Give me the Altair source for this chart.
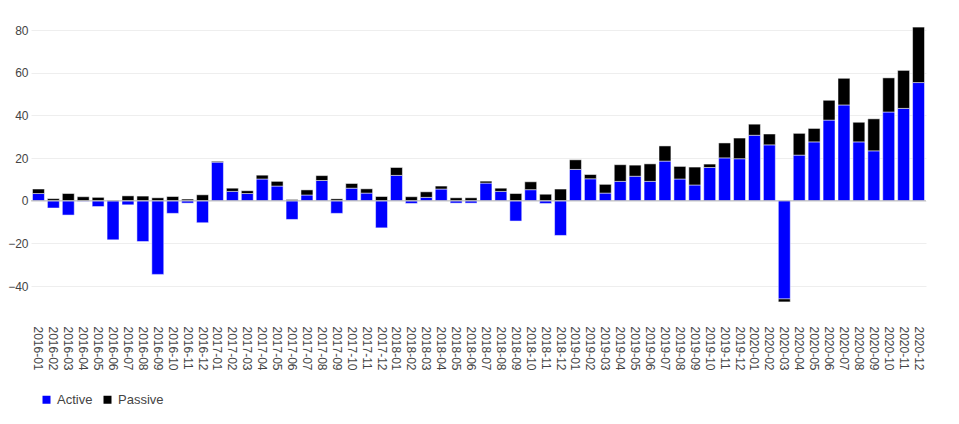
import altair as alt
import pandas as pd

months = [f"{y}-{m:02d}" for y in range(2016, 2021) for m in range(1, 13)]

active = [
    3.4, -3.4, -6.7, -0.3, -2.7, -18.3, -1.9, -19.1, -34.5, -5.9, -1.1, -10.3,
    18.1, 4.4, 3.4, 10.2, 6.9, -8.75, 2.7, 9.5, -5.9, 5.9, 3.6, -12.7,
    11.9, -1.25, 1.6, 5.5, -1.1, -1.1, 8.3, 4.4, -9.5, 5.2, -1.25, -16.25,
    14.7, 10.3, 3.6, 9.1, 11.5, 9.1, 18.6, 10.2, 7.4, 15.6, 20.1, 19.7,
    30.7, 26.2, -46.0, 21.4, 27.6, 37.8, 44.9, 27.6, 23.4, 41.6, 43.3, 55.4,
]

passive = [
    2.1, 1.0, 3.4, 1.9, 1.6, 0.3, 2.3, 2.2, 1.4, 2.0, 0.8, 2.8,
    0.4, 1.5, 1.3, 1.8, 2.2, 0.6, 2.4, 2.3, 0.9, 2.2, 2.0, 2.0,
    3.7, 1.9, 2.6, 1.4, 1.4, 1.4, 0.9, 1.5, 3.4, 3.7, 3.1, 5.5,
    4.5, 2.0, 4.1, 7.8, 5.2, 8.2, 7.1, 5.9, 8.4, 1.6, 7.0, 9.7,
    5.2, 5.1, -1.4, 10.2, 6.3, 9.3, 12.5, 9.2, 15.0, 16.0, 17.8, 26.0,
]

series_names = ["Active", "Passive"]
series_colors = ["#0000ff", "#000000"]

rows = []
for m, a, p in zip(months, active, passive):
    rows.append({"month": m, "series": "Active", "value": a, "ord": 0})
    rows.append({"month": m, "series": "Passive", "value": p, "ord": 1})
df = pd.DataFrame(rows)

FONT = "Liberation Sans"

bars = alt.Chart(df).mark_bar(stroke="white", strokeWidth=0.5).encode(
    x=alt.X(
        "month:N",
        sort=months,
        scale=alt.Scale(paddingInner=0.2, paddingOuter=0.1),
        axis=alt.Axis(
            title=None, labelAngle=90, labelAlign="left", labelBaseline="middle",
            labelPadding=10, ticks=False, domain=False, grid=False,
            labelFontSize=12, labelColor="#444444", labelFont=FONT,
        ),
    ),
    y=alt.Y(
        "value:Q",
        stack="zero",
        scale=alt.Scale(domain=[-54, 88], nice=False, zero=False),
        axis=alt.Axis(
            title=None, values=[-40, -20, 0, 20, 40, 60, 80], ticks=False,
            domain=False, labelPadding=3, gridColor="#eeeeee",
            labelFontSize=12, labelColor="#444444", labelFont=FONT,
        ),
    ),
    color=alt.Color(
        "series:N",
        scale=alt.Scale(domain=series_names, range=series_colors),
        legend=alt.Legend(
            title=None, orient="none", legendX=9, legendY=380,
            direction="horizontal", symbolType="square", symbolSize=64,
            symbolStrokeWidth=0, labelFontSize=13, labelColor="#444444",
            labelFont=FONT, columnPadding=8,
        ),
    ),
    order=alt.Order("ord:Q", sort="ascending"),
)

zero = alt.Chart(pd.DataFrame({"y": [0]})).mark_rule(color="#bbbbbb", strokeWidth=1).encode(
    y="y:Q"
)

chart = alt.layer(bars, zero).properties(
    width=895,
    height=303,
    autosize="none",
    padding={"left": 23, "top": 5, "right": 25, "bottom": 100},
).configure_view(stroke=None)

chart.save("out.html", embed_options={"renderer": "svg", "actions": False})
